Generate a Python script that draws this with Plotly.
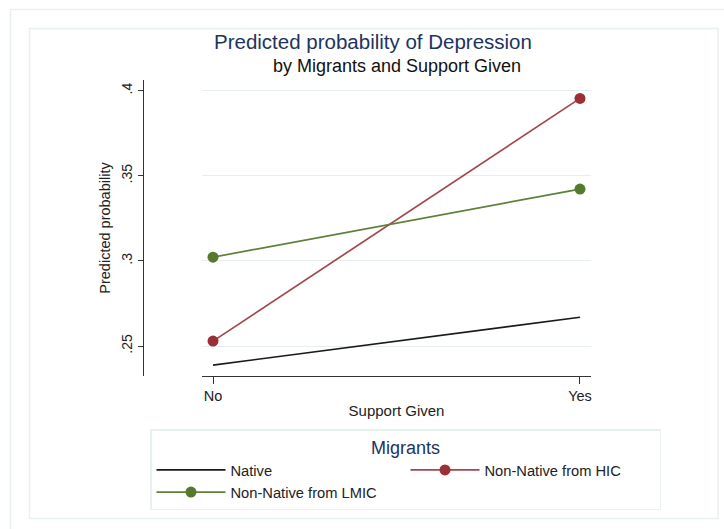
import plotly.graph_objects as go

# ---- data ----
support_levels = ["No", "Yes"]
native = [0.2388, 0.2669]
non_native_hic = [0.2529, 0.3955]
non_native_lmic = [0.3022, 0.3422]
series_names = ["Native", "Non-Native from HIC", "Non-Native from LMIC"]
y_tickvals = [0.25, 0.30, 0.35, 0.40]
y_ticktext = [".25", ".3", ".35", ".4"]

W, H = 724, 529


def fx(p):
    return p / W


def fy(p):
    return 1 - p / H


FONT = "Liberation Sans, Arial, sans-serif"
NAVY = "#1c3461"
FRAME = "#e9f0f1"

fig = go.Figure()
fig.add_trace(go.Scatter(
    x=support_levels, y=native, mode="lines", name=series_names[0],
    line=dict(color="#1a1a1a", width=1.7)))
fig.add_trace(go.Scatter(
    x=support_levels, y=non_native_hic, mode="lines+markers", name=series_names[1],
    line=dict(color="#a5464b", width=1.7),
    marker=dict(color="#9a2f36", size=11)))
fig.add_trace(go.Scatter(
    x=support_levels, y=non_native_lmic, mode="lines+markers", name=series_names[2],
    line=dict(color="#5d813a", width=1.7),
    marker=dict(color="#557a2e", size=11)))

fig.update_layout(
    width=W, height=H,
    margin=dict(l=0, r=0, t=0, b=0),
    paper_bgcolor="white", plot_bgcolor="white",
    font=dict(family=FONT, size=14, color="#222222"),
    xaxis=dict(
        domain=[fx(202), fx(591)],
        type="category",
        range=[-0.03, 1.03],
        showline=True, linecolor="#333333", linewidth=1,
        ticks="outside", ticklen=7, tickcolor="#333333",
        showgrid=False, zeroline=False,
        tickfont=dict(size=14.5, color="#222222"),
        title=dict(text="Support Given", font=dict(size=15, color="#222222"), standoff=2),
    ),
    yaxis=dict(
        domain=[fy(376), fy(80)],
        anchor="free", position=fx(143),
        range=[0.2324, 0.4063],
        tickvals=y_tickvals, ticktext=y_ticktext,
        tickangle=-90,
        showline=True, linecolor="#333333", linewidth=1,
        ticks="outside", ticklen=5, tickcolor="#333333",
        showgrid=True, gridcolor="#e6eef0", gridwidth=1,
        zeroline=False,
        tickfont=dict(size=14, color="#222222"),
        title=dict(text="Predicted probability", font=dict(size=14.5, color="#222222"), standoff=4),
    ),
    showlegend=True,
    legend=dict(
        orientation="h",
        x=fx(150), xanchor="left",
        y=fy(429), yanchor="top",
        entrywidth=170, entrywidthmode="pixels",
        itemwidth=69,
        bgcolor="white", bordercolor=FRAME, borderwidth=1.5,
        font=dict(size=14.7, color="#222222"),
        title=dict(text="Migrants", side="top center", font=dict(size=18, color=NAVY)),
        traceorder="normal",
    ),
    annotations=[
        dict(text="Predicted probability of Depression", xref="paper", yref="paper",
             x=fx(373), y=fy(41.5), xanchor="center", yanchor="middle", showarrow=False,
             font=dict(size=20.5, color=NAVY, family=FONT)),
        dict(text="by Migrants and Support Given", xref="paper", yref="paper",
             x=fx(397), y=fy(66.5), xanchor="center", yanchor="middle", showarrow=False,
             font=dict(size=18, color="#111111", family=FONT)),
    ],
    shapes=[
        dict(type="rect", xref="paper", yref="paper",
             x0=fx(10.5), x1=1.05, y0=-0.05, y1=fy(9.5),
             line=dict(color=FRAME, width=1.5), layer="below"),
        dict(type="rect", xref="paper", yref="paper",
             x0=fx(29.5), x1=fx(718), y0=fy(518.5), y1=fy(28.5),
             line=dict(color=FRAME, width=1.5), layer="below"),
    ],
)

fig.write_html("out.html", config={"displayModeBar": False},
               post_script="document.body.style.margin='0px';")
